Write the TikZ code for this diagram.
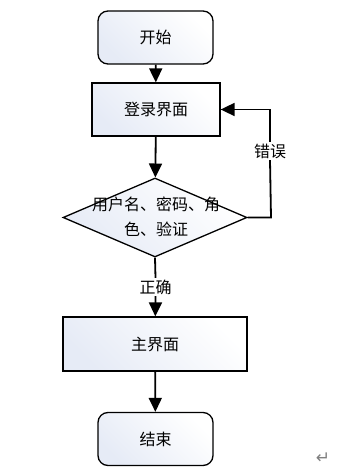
\documentclass[tikz,border=0pt]{standalone}
\usepackage{fontspec}
\newfontfamily\cjk{Noto Sans CJK SC}
\newfontfamily\dejavu{DejaVu Sans}
\usetikzlibrary{arrows.meta,shapes.geometric}
\definecolor{boxfill}{RGB}{230,235,246}
\tikzset{
  base/.style={draw=black,line width=1.3pt,left color=boxfill,right color=white,shading angle=135,
    font=\cjk\fontsize{16}{24}\selectfont,inner sep=0pt},
  term/.style={base,rounded corners=10pt,minimum width=115pt,minimum height=53pt},
  proc/.style={base,minimum width=128pt,minimum height=53pt},
  proc2/.style={base,minimum width=184pt,minimum height=54pt},
  decision/.style={base,diamond,minimum width=184pt,minimum height=79pt,aspect=2.33},
  conn/.style={line width=1.8pt,-{Triangle[width=13pt,length=14pt]}},
  plainconn/.style={line width=1.8pt},
  lbl/.style={font=\cjk\fontsize{16}{24}\selectfont,fill=white,inner sep=1.5pt},
}
\begin{document}
\begin{tikzpicture}[x=1pt,y=-1pt]
\useasboundingbox (0,0) rectangle (353,473);
\node[term] (start) at (155.5,37.5) {开始};
\node[proc] (login) at (156,109.5) {登录界面};
\node[decision] (dec) at (155,217.5) {};
\node[font=\cjk\fontsize{16}{25}\selectfont,align=center] (dectext) at (156,217) {用户名、密码、角\\色、验证};
\node[proc2] (main) at (155,344) {主界面};
\node[term] (end) at (155.5,439) {结束};
\coordinate (loopc) at (271,217.5);
\node[lbl] (err) at (270,151) {错误};
\node[lbl] (ok) at (155.5,287) {正确};
\node[text=gray,font=\dejavu\fontsize{17}{17}\selectfont] (ret) at (323,458) {↵};

\draw[conn] (start) -- (login);
\draw[conn] (login) -- (dec);
\draw[plainconn] (dec.south) -- (ok.north);
\draw[conn] (ok.south) -- (main);
\draw[conn] (main) -- (end);
\draw[plainconn] (dec.east) -- (loopc) -- (err.south);
\draw[conn] (err.north) |- (login.east);
\end{tikzpicture}
\end{document}
